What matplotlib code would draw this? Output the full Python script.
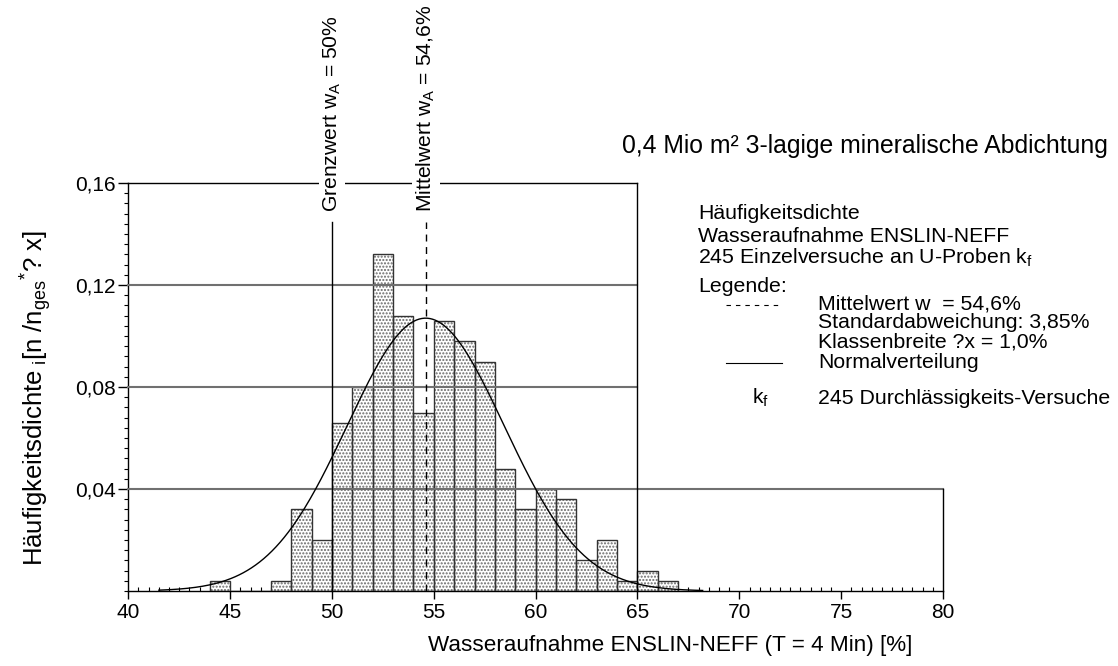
import numpy as np
import matplotlib
matplotlib.use("Agg")
import matplotlib.pyplot as plt
from matplotlib.lines import Line2D
import matplotlib.transforms as mtransforms

plt.rcParams['font.family'] = ['Liberation Sans', 'DejaVu Sans']
plt.rcParams['mathtext.fontset'] = 'custom'
plt.rcParams['mathtext.rm'] = 'Liberation Sans'
plt.rcParams['mathtext.it'] = 'Liberation Sans'
plt.rcParams['hatch.color'] = '#6a6a6a'
plt.rcParams['hatch.linewidth'] = 1.0

# ---- data ----
class_left = [44, 45, 46, 47, 48, 49, 50, 51, 52, 53, 54, 55, 56, 57, 58, 59, 60, 61, 62, 63, 64, 65, 66]
density = [0.004, 0.0, 0.0, 0.004, 0.032, 0.020, 0.066, 0.080, 0.132, 0.108, 0.070, 0.106,
           0.098, 0.090, 0.048, 0.032, 0.040, 0.036, 0.012, 0.020, 0.004, 0.008, 0.004]
class_width = 1.0
mean_w = 54.6
std_w = 3.85
curve_peak = 0.107
curve_range = (41.5, 68.2)
grenzwert = 50.0
x_ticks = [40, 45, 50, 55, 60, 65, 70, 75, 80]
x_ticklabels = ['40', '45', '50', '55', '60', '65', '70', '75', '80']
y_ticks = [0.04, 0.08, 0.12, 0.16]
y_ticklabels = ['0,04', '0,08', '0,12', '0,16']

fig = plt.figure(figsize=(11.18, 6.66), dpi=100)
ax = fig.add_axes([128.3 / 1118, 1 - 591 / 666, (943 - 128.3) / 1118, (591 - 183) / 666])
ax.set_xlim(40, 80)
ax.set_ylim(0, 0.16)

# bars: hatch layer + edge layer
ax.bar(class_left, density, width=class_width, align='edge', color='white',
       hatch='.....', edgecolor='#6a6a6a', linewidth=0, zorder=2)
ax.bar(class_left, density, width=class_width, align='edge', fill=False,
       edgecolor='#333333', linewidth=1.0, zorder=3)

# frame / grid lines
for yv in [0.04, 0.08, 0.12]:
    xe = 80 if yv == 0.04 else 65
    ax.plot([40, xe], [yv, yv], color='#707070', lw=1.5, zorder=4, clip_on=False)
ax.plot([40, 65], [0.16, 0.16], color='black', lw=1.0, zorder=4, clip_on=False)
ax.plot([65, 65], [0, 0.16], color='black', lw=1.0, zorder=4, clip_on=False)
ax.plot([80, 80], [0, 0.04], color='black', lw=1.0, zorder=4, clip_on=False)

# normal curve
xc = np.linspace(curve_range[0], curve_range[1], 400)
yc = curve_peak * np.exp(-0.5 * ((xc - mean_w) / std_w) ** 2)
ax.plot(xc, yc, color='black', lw=1.0, zorder=5)

# vertical markers
ax.plot([grenzwert, grenzwert], [0, 0.1447], color='black', lw=1.0, zorder=5, clip_on=False)
ax.plot([mean_w, mean_w], [0, 0.1447], color='black', lw=1.0, dashes=(5, 4), zorder=5, clip_on=False)

trans = mtransforms.blended_transform_factory(ax.transData, ax.transAxes)
ax.text(grenzwert, 0.929, 'Grenzwert w$_{\\mathrm{A}}$ = 50%', rotation=90, ha='center', va='bottom',
        fontsize=15.2, transform=trans, zorder=6,
        bbox=dict(facecolor='white', edgecolor='none', pad=2))
ax.text(mean_w, 0.929, 'Mittelwert w$_{\\mathrm{A}}$ = 54,6%', rotation=90, ha='center', va='bottom',
        fontsize=15.2, transform=trans, zorder=6,
        bbox=dict(facecolor='white', edgecolor='none', pad=2))

# axes styling
for s in ['top', 'right']:
    ax.spines[s].set_visible(False)
ax.spines['left'].set_linewidth(1.0)
ax.spines['bottom'].set_linewidth(1.0)
ax.set_xticks(x_ticks)
ax.set_xticklabels(x_ticklabels, fontsize=15)
ax.set_yticks(y_ticks)
ax.set_yticklabels(y_ticklabels, fontsize=15)
ax.set_xticks(np.arange(40, 80.01, 0.5), minor=True)
ax.set_yticks(np.arange(0, 0.1601, 0.004), minor=True)
ax.tick_params(axis='x', which='major', direction='out', length=6, width=1, pad=3)
ax.tick_params(axis='x', which='minor', direction='in', length=3, width=0.8)
ax.tick_params(axis='y', which='major', direction='out', length=7, width=1, pad=2)
ax.tick_params(axis='y', which='minor', direction='out', length=3, width=0.8)

# axis labels
fig.text(670 / 1118, 1 - 645 / 666, 'Wasseraufnahme ENSLIN-NEFF (T = 4 Min) [%]',
         ha='center', va='center', fontsize=16.2)
fig.text(36 / 1118, 1 - 398 / 666,
         'Häufigkeitsdichte$_{\\,\\,i}$[n /n$_{\\mathrm{ges}}$$^{*}$? x]',
         ha='center', va='center', rotation=90, fontsize=18.5)

# right-side annotations
fig.text(622 / 1118, 1 - 146 / 666, '0,4 Mio m² 3-lagige mineralische Abdichtung',
         ha='left', va='center', fontsize=17.8)
fs = 15.3
fig.text(698 / 1118, 1 - 213 / 666, 'Häufigkeitsdichte', ha='left', va='center', fontsize=fs)
fig.text(698 / 1118, 1 - 236 / 666, 'Wasseraufnahme ENSLIN-NEFF', ha='left', va='center', fontsize=fs)
fig.text(698 / 1118, 1 - 258 / 666, '245 Einzelversuche an U-Proben k$_{\\mathrm{f}}$',
         ha='left', va='center', fontsize=fs)
fig.text(698 / 1118, 1 - 287 / 666, 'Legende:', ha='left', va='center', fontsize=fs)
fig.add_artist(Line2D([726 / 1118, 782 / 1118], [1 - 305 / 666, 1 - 305 / 666],
                      color='black', lw=0.8, dashes=(4, 4.5)))
fig.text(818 / 1118, 1 - 304 / 666, 'Mittelwert w  = 54,6%', ha='left', va='center', fontsize=fs)
fig.text(818 / 1118, 1 - 323 / 666, 'Standardabweichung: 3,85%', ha='left', va='center', fontsize=fs)
fig.text(818 / 1118, 1 - 342 / 666, 'Klassenbreite ?x = 1,0%', ha='left', va='center', fontsize=fs)
fig.add_artist(Line2D([726 / 1118, 782 / 1118], [1 - 363 / 666, 1 - 363 / 666],
                      color='black', lw=0.8))
fig.text(818 / 1118, 1 - 362 / 666, 'Normalverteilung', ha='left', va='center', fontsize=fs)
fig.text(752 / 1118, 1 - 398 / 666, 'k$_{\\mathrm{f}}$', ha='left', va='center', fontsize=fs)
fig.text(818 / 1118, 1 - 398 / 666, '245 Durchlässigkeits-Versuche', ha='left', va='center', fontsize=fs)

fig.savefig('out.png', dpi=100)
